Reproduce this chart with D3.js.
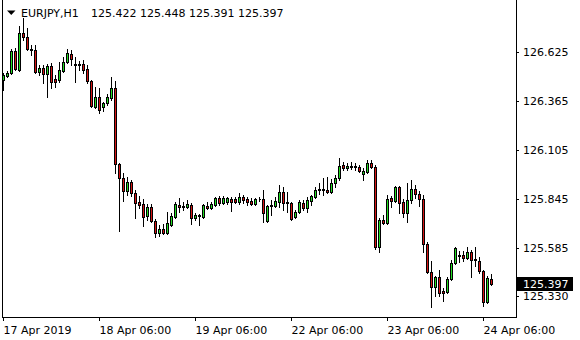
<!DOCTYPE html>
<html>
<head>
<meta charset="utf-8">
<script src="https://cdn.jsdelivr.net/npm/d3@7"></script>
<style>
  body { margin: 0; background: #fff; }
  svg { display: block; font-family: "DejaVu Sans", sans-serif; }
</style>
</head>
<body>
<svg id="chart"></svg>
<script>
// EURJPY H1, 17 Apr 06:00 -> 24 Apr 07:00 (one bar per hour, weekend skipped)
const symbol = "EURJPY";
const timeframe = "H1";

const opens = [
  126.478, 126.499, 126.515, 126.632, 126.531, 126.727, 126.706, 126.643, 126.637, 126.521,
  126.542, 126.510, 126.552, 126.483, 126.478, 126.526, 126.574, 126.616, 126.563, 126.558,
  126.563, 126.536, 126.473, 126.335, 126.388, 126.335, 126.356, 126.383, 126.436, 126.032,
  125.958, 125.889, 125.937, 125.879, 125.831, 125.820, 125.756, 125.804, 125.730, 125.666,
  125.687, 125.666, 125.709, 125.751, 125.815, 125.804, 125.804, 125.815, 125.746, 125.756,
  125.751, 125.810, 125.799, 125.815, 125.852, 125.825, 125.831, 125.847, 125.847, 125.831,
  125.857, 125.847, 125.836, 125.820, 125.847, 125.847, 125.730, 125.810, 125.810, 125.831,
  125.884, 125.831, 125.825, 125.751, 125.778, 125.825, 125.799, 125.836, 125.857, 125.894,
  125.894, 125.894, 125.884, 125.932, 125.958, 126.027, 126.011, 126.016, 126.016, 126.016,
  125.979, 125.990, 126.038, 126.016, 125.592, 125.735, 125.719, 125.852, 125.836, 125.910,
  125.831, 125.772, 125.841, 125.900, 125.873, 125.847, 125.608, 125.459, 125.380, 125.433,
  125.359, 125.353, 125.422, 125.507, 125.544, 125.550, 125.534, 125.565, 125.523, 125.518,
  125.465, 125.300, 125.422
];
const highs = [
  126.515, 126.526, 126.643, 126.648, 126.765, 126.807, 126.754, 126.664, 126.664, 126.558,
  126.558, 126.563, 126.568, 126.505, 126.574, 126.600, 126.643, 126.637, 126.600, 126.579,
  126.584, 126.558, 126.478, 126.441, 126.436, 126.361, 126.404, 126.494, 126.473, 126.038,
  125.985, 125.963, 125.947, 125.894, 125.863, 125.847, 125.820, 125.820, 125.740, 125.709,
  125.714, 125.778, 125.772, 125.831, 125.852, 125.831, 125.841, 125.825, 125.772, 125.767,
  125.820, 125.831, 125.831, 125.857, 125.863, 125.863, 125.857, 125.857, 125.857, 125.879,
  125.868, 125.857, 125.852, 125.852, 125.857, 125.894, 125.815, 125.841, 125.857, 125.921,
  125.910, 125.884, 125.831, 125.788, 125.841, 125.841, 125.857, 125.868, 125.910, 125.932,
  125.958, 125.963, 125.953, 125.974, 126.064, 126.043, 126.038, 126.043, 126.038, 126.027,
  126.011, 126.054, 126.054, 126.027, 125.746, 125.762, 125.868, 125.863, 125.916, 125.916,
  125.847, 125.932, 125.947, 125.921, 125.889, 125.868, 125.618, 125.518, 125.438, 125.470,
  125.374, 125.433, 125.523, 125.592, 125.571, 125.571, 125.592, 125.576, 125.592, 125.539,
  125.470, 125.438, 125.448
];
const lows = [
  126.425, 126.494, 126.510, 126.531, 126.526, 126.690, 126.637, 126.611, 126.515, 126.505,
  126.462, 126.388, 126.436, 126.441, 126.467, 126.521, 126.568, 126.558, 126.467, 126.531,
  126.515, 126.462, 126.335, 126.330, 126.303, 126.314, 126.345, 126.372, 125.985, 125.677,
  125.836, 125.868, 125.863, 125.746, 125.799, 125.703, 125.735, 125.725, 125.645, 125.650,
  125.661, 125.661, 125.703, 125.746, 125.778, 125.788, 125.799, 125.714, 125.735, 125.709,
  125.746, 125.794, 125.794, 125.810, 125.815, 125.820, 125.820, 125.783, 125.825, 125.820,
  125.825, 125.815, 125.815, 125.815, 125.836, 125.725, 125.725, 125.762, 125.804, 125.804,
  125.788, 125.778, 125.735, 125.746, 125.772, 125.788, 125.778, 125.815, 125.852, 125.873,
  125.868, 125.879, 125.879, 125.910, 125.947, 126.001, 126.001, 126.006, 126.001, 125.990,
  125.947, 125.985, 126.011, 125.581, 125.565, 125.714, 125.714, 125.804, 125.831, 125.772,
  125.751, 125.725, 125.825, 125.852, 125.810, 125.565, 125.454, 125.274, 125.332, 125.332,
  125.305, 125.348, 125.417, 125.502, 125.512, 125.518, 125.528, 125.433, 125.491, 125.454,
  125.279, 125.295, 125.391
];
const closes = [
  126.505, 126.515, 126.632, 126.536, 126.727, 126.706, 126.643, 126.637, 126.521, 126.542,
  126.510, 126.552, 126.467, 126.467, 126.531, 126.574, 126.621, 126.589, 126.558, 126.563,
  126.531, 126.473, 126.340, 126.388, 126.319, 126.356, 126.388, 126.436, 126.032, 125.958,
  125.889, 125.937, 125.879, 125.825, 125.815, 125.751, 125.804, 125.730, 125.666, 125.687,
  125.666, 125.719, 125.756, 125.820, 125.804, 125.810, 125.820, 125.746, 125.762, 125.762,
  125.815, 125.799, 125.820, 125.852, 125.825, 125.852, 125.852, 125.831, 125.831, 125.857,
  125.841, 125.831, 125.820, 125.847, 125.847, 125.772, 125.810, 125.815, 125.836, 125.884,
  125.825, 125.825, 125.740, 125.778, 125.831, 125.799, 125.841, 125.863, 125.894, 125.900,
  125.900, 125.884, 125.932, 125.958, 126.022, 126.011, 126.022, 126.022, 126.022, 125.995,
  125.995, 126.038, 126.016, 125.592, 125.735, 125.719, 125.847, 125.836, 125.910, 125.825,
  125.772, 125.841, 125.900, 125.873, 125.847, 125.608, 125.459, 125.380, 125.433, 125.348,
  125.348, 125.422, 125.507, 125.587, 125.550, 125.534, 125.565, 125.523, 125.528, 125.465,
  125.300, 125.428, 125.397
];

// time axis: bar index of each label
const xTickBars = [0, 24, 48, 72, 96, 120];
const xTickLabels = ["17 Apr 2019", "18 Apr 06:00", "19 Apr 06:00", "22 Apr 06:00", "23 Apr 06:00", "24 Apr 06:00"];
// price axis
const yTicks = [126.625, 126.365, 126.105, 125.845, 125.585, 125.330];

class CandleChart {
    constructor(_config, _data) {
        this.config = {
            parentElement: _config.parentElement,
            containerWidth: _config.containerWidth || 580,
            containerHeight: _config.containerHeight || 340,
            plot: {left: 2, right: 516, bottom: 317},
            barSpacing: 4,
            bullColor: '#22dc22',
            bearColor: '#d41414'
        };
        this.data = _data;
        this.initVis();
    }

    initVis() {
        let vis = this;
        const cfg = vis.config;

        vis.svg = d3.select(cfg.parentElement)
            .attr('width', cfg.containerWidth)
            .attr('height', cfg.containerHeight)
            .attr('shape-rendering', 'crispEdges');

        // one bar every 4 px, bar 0 centred on column 3
        vis.xScale = d3.scaleLinear()
            .domain([0, 128])
            .range([cfg.plot.left + 1, cfg.plot.left + 1 + 128 * cfg.barSpacing]);

        // 0.005306 per pixel, window top at 126.9025
        vis.yScale = d3.scaleLinear()
            .domain([125.2205, 126.9025])
            .range([cfg.plot.bottom, 0])
            .interpolate(d3.interpolateRound);

        vis.renderVis();
    }

    renderVis() {
        let vis = this;
        const cfg = vis.config;
        const x = vis.xScale, y = vis.yScale;

        // frame
        vis.svg.append('path')
            .attr('stroke', '#000')
            .attr('fill', 'none')
            .attr('d', `M${cfg.plot.left + 0.5},0V${cfg.plot.bottom + 0.5}H${cfg.plot.right + 0.5}V0`);

        // candles
        const candles = vis.svg.append('g')
            .selectAll('g')
            .data(vis.data)
            .join('g');

        candles.append('line')
            .attr('stroke', '#000')
            .attr('x1', (d, i) => x(i) + 0.5)
            .attr('x2', (d, i) => x(i) + 0.5)
            .attr('y1', d => y(d.high))
            .attr('y2', d => y(d.low) + 1);

        candles.append('path')
            .attr('stroke', '#000')
            .attr('fill', d => d.close >= d.open ? cfg.bullColor : cfg.bearColor)
            .attr('d', (d, i) => {
                const c = x(i);
                const t = Math.min(y(d.open), y(d.close));
                const b = Math.max(y(d.open), y(d.close));
                return `M${c - 0.5},${t + 0.5}H${c + 1.5}V${b + 0.5}H${c - 0.5}Z`;
            });

        // price axis on the right
        const yAxis = d3.axisRight(y)
            .tickValues(yTicks)
            .tickSizeInner(3)
            .tickSizeOuter(0)
            .tickPadding(4)
            .tickFormat(d3.format('.3f'));
        const yAxisGroup = vis.svg.append('g')
            .attr('transform', `translate(${cfg.plot.right}, 0)`)
            .call(yAxis);
        yAxisGroup.select('.domain').remove();
        yAxisGroup.selectAll('text')
            .attr('font-size', 11)
            .attr('font-family', '"DejaVu Sans", sans-serif')
            .attr('fill', '#000');

        // time axis
        const xAxis = d3.axisBottom(x)
            .tickValues(xTickBars)
            .tickSizeInner(4)
            .tickSizeOuter(0)
            .tickPadding(5)
            .tickFormat((d, i) => xTickLabels[i]);
        const xAxisGroup = vis.svg.append('g')
            .attr('transform', `translate(0, ${cfg.plot.bottom})`)
            .call(xAxis);
        xAxisGroup.select('.domain').remove();
        xAxisGroup.selectAll('text')
            .attr('text-anchor', 'start')
            .attr('x', 0)
            .attr('font-size', 11)
            .attr('font-family', '"DejaVu Sans", sans-serif')
            .attr('fill', '#000');

        // current price marker
        const last = vis.data[vis.data.length - 1];
        const ly = y(last.close);
        vis.svg.append('rect')
            .attr('x', cfg.plot.right + 1)
            .attr('y', ly - 7)
            .attr('width', 56)
            .attr('height', 14)
            .attr('fill', '#000');
        vis.svg.append('text')
            .attr('x', cfg.plot.right + 7)
            .attr('y', ly)
            .attr('dy', '0.36em')
            .attr('font-size', 11)
            .attr('fill', '#fff')
            .text(d3.format('.3f')(last.close));

        // title: symbol, timeframe and OHLC of the last bar
        vis.svg.append('path')
            .attr('shape-rendering', 'auto')
            .attr('d', 'M7,10.5H15.5L11.25,15Z')
            .attr('fill', '#000');
        const f = d3.format('.3f');
        vis.svg.append('text')
            .attr('x', 21)
            .attr('y', 17)
            .attr('font-size', 11)
            .attr('fill', '#000')
            .text(`${symbol},${timeframe}`);
        vis.svg.append('text')
            .attr('x', 91)
            .attr('y', 17)
            .attr('font-size', 11)
            .attr('fill', '#000')
            .text(`${f(last.open)} ${f(last.high)} ${f(last.low)} ${f(last.close)}`);
    }
}

const bars = opens.map((o, i) => ({open: o, high: highs[i], low: lows[i], close: closes[i]}));
new CandleChart({parentElement: '#chart'}, bars);
</script>
</body>
</html>
